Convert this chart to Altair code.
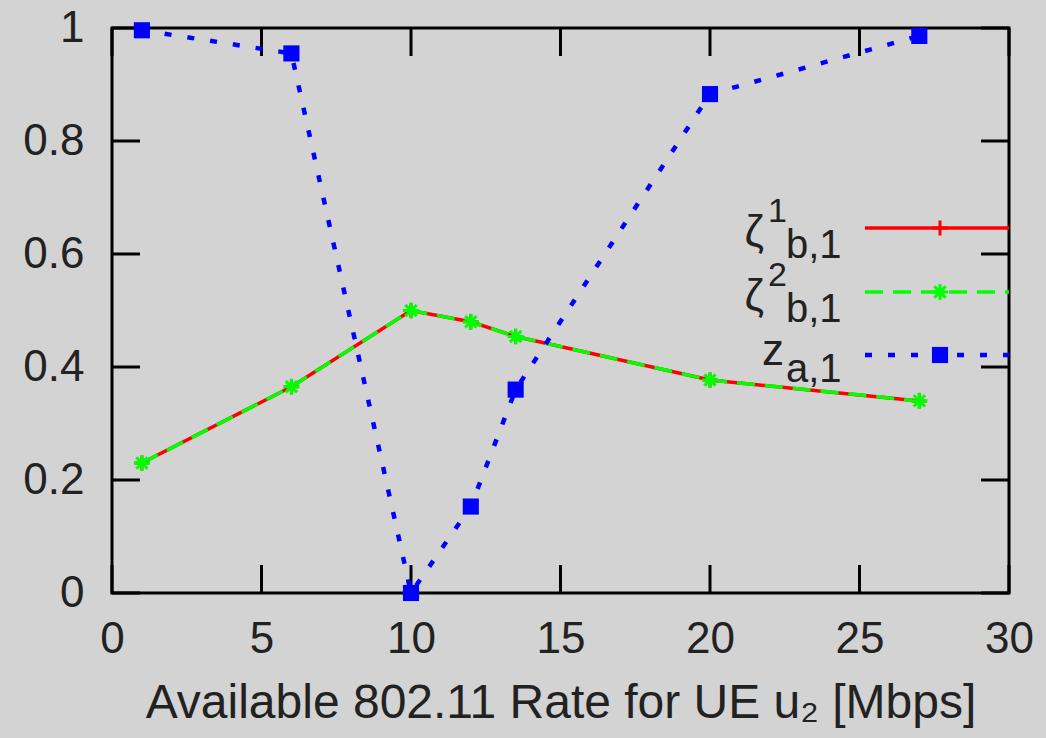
import altair as alt
import pandas as pd

# ---- data ----
x_vals = [1, 6, 10, 12, 13.5, 20, 27]
zeta1 = [0.23, 0.365, 0.50, 0.48, 0.454, 0.377, 0.34]
zeta2 = [0.23, 0.365, 0.50, 0.48, 0.454, 0.377, 0.34]
z_a1 = [0.996, 0.955, 0.0, 0.153, 0.36, 0.883, 0.986]

x_ticks = [0, 5, 10, 15, 20, 25, 30]
y_ticks = [0, 0.2, 0.4, 0.6, 0.8, 1.0]

x_title = "Available 802.11 Rate for UE u\u2082 [Mbps]"

FONT = "Liberation Sans Narrow, Arial Narrow, Liberation Sans, sans-serif"
W, H = 897, 565
TICK = 28

xs = alt.Scale(domain=[0, 30], nice=False, zero=False)
ys = alt.Scale(domain=[0, 1], nice=False, zero=False)

df1 = pd.DataFrame({"x": x_vals, "y": zeta1})
df2 = pd.DataFrame({"x": x_vals, "y": zeta2})
df3 = pd.DataFrame({"x": x_vals, "y": z_a1})
dxt = pd.DataFrame({"v": x_ticks})
dyt = pd.DataFrame({"v": y_ticks})

PLUS = "M-1,0L1,0M0,-1L0,1"
STAR = "M-1,0L1,0M0,-1L0,1M-0.7,-0.7L0.7,0.7M-0.7,0.7L0.7,-0.7"

X = alt.X("x:Q", scale=xs, axis=alt.Axis(values=x_ticks, ticks=False, domain=False, grid=False,
                                         labelFontSize=44, labelFont=FONT, labelColor="#222",
                                         labelPadding=24, labelFlush=False, title=x_title,
                                         titleFont=FONT, titleFontSize=48, titleFontWeight="normal",
                                         titleColor="#222", titlePadding=18))
Y = alt.Y("y:Q", scale=ys, axis=alt.Axis(values=y_ticks, ticks=False, domain=False, grid=False,
                                         format="~g", labelFontSize=44, labelFont=FONT,
                                         labelColor="#222", labelPadding=28, title=None))

base_axes = alt.Chart(df1).mark_line(opacity=0).encode(x=X, y=Y)

# inside ticks on all four sides
tb = alt.Chart(dxt).mark_rule(color="black", strokeWidth=3).encode(
    x=alt.X("v:Q", scale=xs), y=alt.value(H), y2=alt.value(H - TICK))
tt = alt.Chart(dxt).mark_rule(color="black", strokeWidth=3).encode(
    x=alt.X("v:Q", scale=xs), y=alt.value(0), y2=alt.value(TICK))
tl = alt.Chart(dyt).mark_rule(color="black", strokeWidth=3).encode(
    y=alt.Y("v:Q", scale=ys), x=alt.value(0), x2=alt.value(TICK))
tr = alt.Chart(dyt).mark_rule(color="black", strokeWidth=3).encode(
    y=alt.Y("v:Q", scale=ys), x=alt.value(W), x2=alt.value(W - TICK))

enc = dict(x=alt.X("x:Q", scale=xs), y=alt.Y("y:Q", scale=ys))

red_line = alt.Chart(df1).mark_line(color="#ff0000", strokeWidth=3.5).encode(**enc)
red_pts = alt.Chart(df1).mark_point(shape=PLUS, color="#ff0000", filled=False, size=230,
                                    strokeWidth=3, opacity=1).encode(**enc)
green_line = alt.Chart(df2).mark_line(color="#00ff00", strokeWidth=3.5, strokeDash=[18, 10]).encode(**enc)
green_pts = alt.Chart(df2).mark_point(shape=STAR, color="#00ff00", filled=False, size=260,
                                      strokeWidth=3, opacity=1).encode(**enc)
blue_line = alt.Chart(df3).mark_line(color="#0000ff", strokeWidth=4.5, strokeDash=[7, 16]).encode(**enc)
blue_pts = alt.Chart(df3).mark_point(shape="square", color="#0000ff", filled=True, size=260,
                                     opacity=1).encode(**enc)

# ---- legend (inside, right) ----
LX1, LX2, LMX = 753, 897, 828
ly = [200, 264, 327]
leg_df = pd.DataFrame({"k": [0]})

def lrule(y, **kw):
    return alt.Chart(leg_df).mark_rule(**kw).encode(x=alt.value(LX1), x2=alt.value(LX2), y=alt.value(y))

def lpt(y, **kw):
    return alt.Chart(leg_df).mark_point(opacity=1, **kw).encode(x=alt.value(LMX), y=alt.value(y))

def ltext(txt, x, y, size, align="left"):
    return alt.Chart(leg_df).mark_text(text=txt, font=FONT, fontSize=size, color="#222",
                                       align=align, baseline="alphabetic").encode(
        x=alt.value(x), y=alt.value(y))

legend = [
    lrule(ly[0], color="#ff0000", strokeWidth=3.5),
    lpt(ly[0], shape=PLUS, color="#ff0000", filled=False, size=230, strokeWidth=3),
    lrule(ly[1], color="#00ff00", strokeWidth=3.5, strokeDash=[18, 10]),
    lpt(ly[1], shape=STAR, color="#00ff00", filled=False, size=260, strokeWidth=3),
    lrule(ly[2], color="#0000ff", strokeWidth=4.5, strokeDash=[7, 16]),
    lpt(ly[2], shape="square", color="#0000ff", filled=True, size=260),
    ltext("\u03b6", 652, 218, 44, "right"),
    ltext("1", 656, 194, 34),
    ltext("b,1", 674, 230, 40),
    ltext("\u03b6", 652, 282, 44, "right"),
    ltext("2", 656, 258, 34),
    ltext("b,1", 674, 294, 40),
    ltext("z", 672, 337, 44, "right"),
    ltext("a,1", 674, 354, 40),
]

chart = alt.layer(
    base_axes, tb, tt, tl, tr,
    red_line, green_line, blue_line, red_pts, green_pts, blue_pts,
    *legend,
).properties(
    width=W, height=H, background="#d3d3d3",
    autosize=alt.AutoSizeParams(type="none"),
    padding={"left": 112, "top": 28, "right": 37, "bottom": 145},
).configure_view(stroke="black", strokeWidth=3, fill=None)

chart.save("out.html", embed_options={"renderer": "svg", "actions": False})
